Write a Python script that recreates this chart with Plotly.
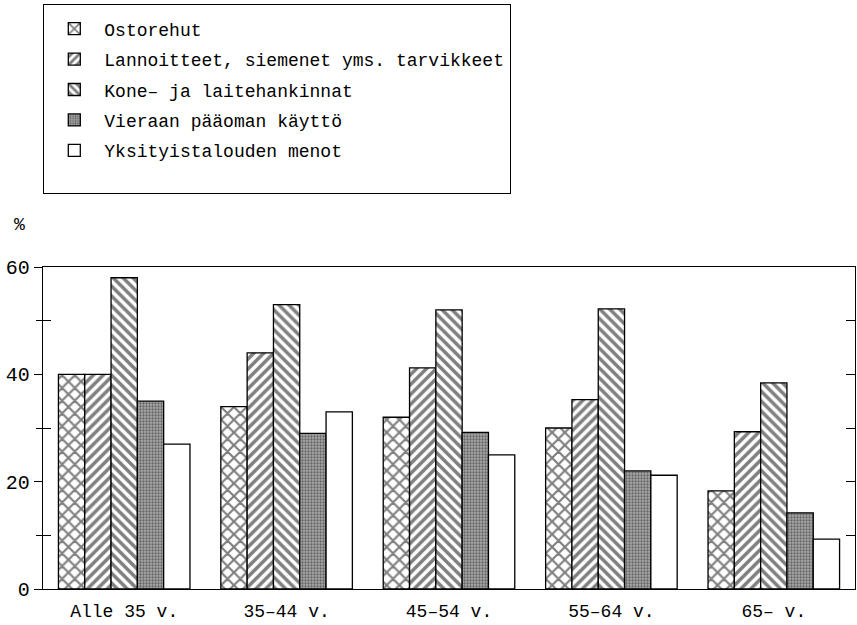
import plotly.graph_objects as go

categories = ["Alle 35 v.", "35–44 v.", "45–54 v.", "55–64 v.", "65– v."]
series_names = [
    "Ostorehut",
    "Lannoitteet, siemenet yms. tarvikkeet",
    "Kone– ja laitehankinnat",
    "Vieraan pääoman käyttö",
    "Yksityistalouden menot<br> ",
]
ostorehut = [40, 34, 32, 30, 18.3]
lannoitteet = [40, 44, 41.2, 35.3, 29.3]
kone = [58, 53, 52, 52.2, 38.4]
vieraan = [35, 29, 29.2, 22, 14.2]
yksityis = [27, 33, 25, 21.2, 9.3]
y_ticks = [0, 20, 40, 60]

FONT = "Liberation Mono"
patterns = [
    dict(shape="x", size=9, solidity=0.42, fgcolor="black", bgcolor="white"),
    dict(shape="/", size=7, solidity=0.5, fgcolor="black", bgcolor="white"),
    dict(shape="\\", size=7, solidity=0.5, fgcolor="black", bgcolor="white"),
    dict(shape=".", size=3, solidity=0.45, fgcolor="#222222", bgcolor="#a8a8a8"),
    dict(shape="", fgcolor="black", bgcolor="white"),
]
values = [ostorehut, lannoitteet, kone, vieraan, yksityis]

fig = go.Figure()
for i, (name, vals, pat) in enumerate(zip(series_names, values, patterns)):
    fig.add_trace(go.Bar(
        x=categories, y=vals, name=name, legendgroup=f"g{i}",
        marker=dict(color="white", pattern=pat, line=dict(color="black", width=1.3)),
    ))

fig.add_trace(go.Scatter(x=categories, y=[None]*5, yaxis="y2", showlegend=False, hoverinfo="skip"))
fig.add_trace(go.Scatter(x=categories, y=[None]*5, yaxis="y3", showlegend=False, hoverinfo="skip"))

fig.update_layout(
    width=857, height=625,
    margin=dict(l=43, r=2, t=267, b=36, autoexpand=False),
    paper_bgcolor="white", plot_bgcolor="white",
    font=dict(family=FONT, size=18, color="black"),
    barmode="group", bargap=0.19, bargroupgap=0,
    showlegend=True,
    legend=dict(
        x=0, xanchor="left", y=(589 - 4) / 322, yanchor="top",
        bordercolor="black", borderwidth=1.3, bgcolor="white",
        font=dict(family=FONT, size=18), itemwidth=50,
        traceorder="grouped", tracegroupgap=4, valign="top",
        title=dict(text=" ", font=dict(size=4)),
    ),
    xaxis=dict(
        showline=True, linecolor="black", linewidth=1.3, mirror=True,
        ticks="", showgrid=False, range=[-0.5, 4.5],
        tickfont=dict(family=FONT, size=18), ticklabelstandoff=5,
    ),
    yaxis=dict(
        range=[0, 60], tickvals=y_ticks, ticks="outside", ticklen=8,
        tickwidth=1.3, tickcolor="black",
        showline=True, linecolor="black", linewidth=1.3,
        showgrid=False, zeroline=False,
        tickfont=dict(family=FONT, size=20),
        minor=dict(tickvals=[10, 30, 50], ticks="outside", ticklen=6, tickwidth=1.3, tickcolor="black", showgrid=False),
    ),
    yaxis2=dict(
        overlaying="y", side="left", range=[0, 60], tickvals=[10, 30, 50],
        ticks="inside", ticklen=8, tickwidth=1.3, tickcolor="black",
        showticklabels=False, showgrid=False, zeroline=False, showline=False,
    ),
    yaxis3=dict(
        overlaying="y", side="right", range=[0, 60], tickvals=[10, 20, 30, 40, 50],
        ticks="inside", ticklen=9, tickwidth=1.3, tickcolor="black",
        showticklabels=False, showgrid=False, zeroline=False,
        showline=True, linecolor="black", linewidth=1.3,
    ),
    annotations=[dict(
        text="%", xref="paper", yref="paper", x=-31 / 812, xanchor="left",
        y=(589 - 225) / 322, yanchor="middle", showarrow=False,
        font=dict(family=FONT, size=18),
    )],
)

fig.write_html("out.html", config={"displayModeBar": False},
               post_script="document.body.style.margin='0';")
